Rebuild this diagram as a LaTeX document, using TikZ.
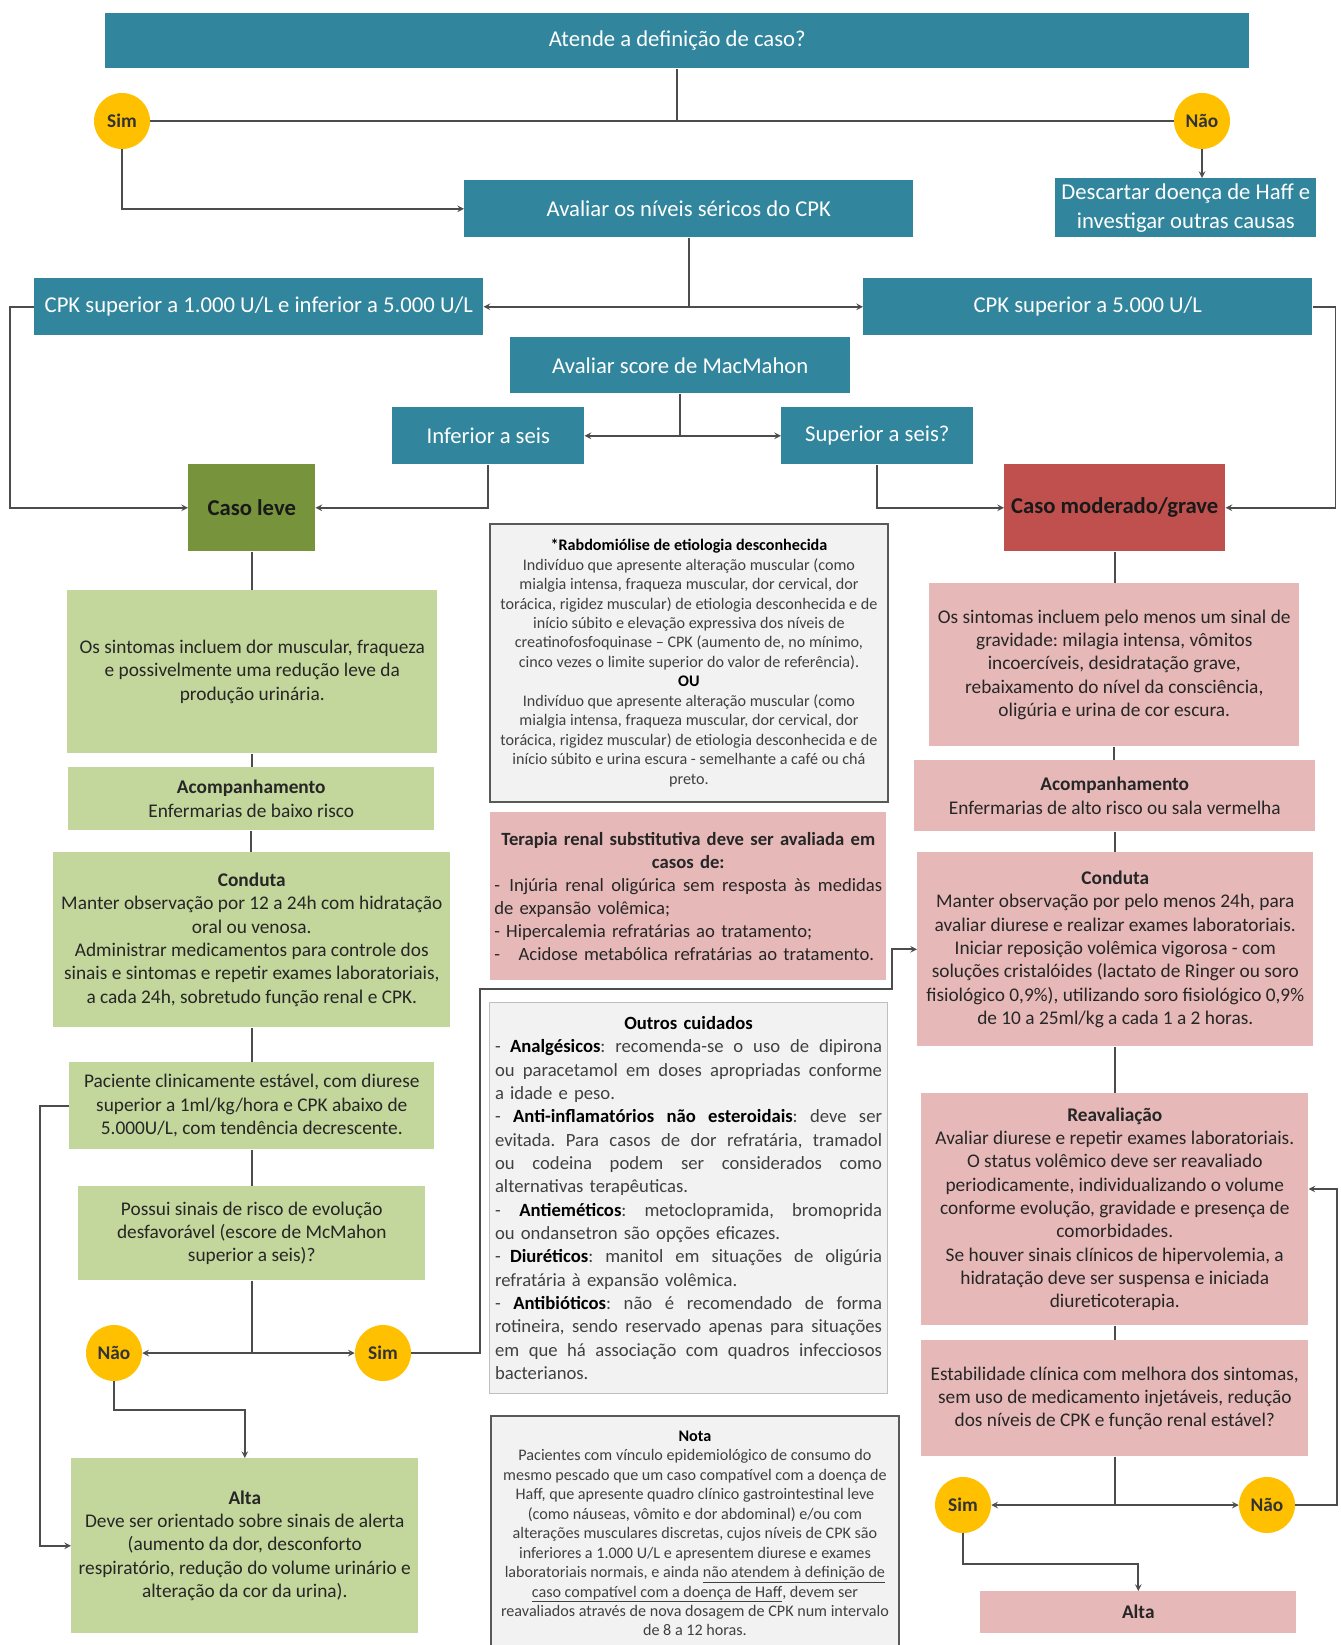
\documentclass[tikz,border=0pt]{standalone}
\usepackage{fontspec}
\setmainfont{Carlito}
\usetikzlibrary{arrows}

\definecolor{cpkteal}{HTML}{31859C}
\definecolor{simgold}{HTML}{FFC000}
\definecolor{levegreen}{HTML}{77933C}
\definecolor{leveback}{HTML}{C3D69B}
\definecolor{gravered}{HTML}{C0504D}
\definecolor{graveback}{HTML}{E6B9B8}
\definecolor{notegray}{HTML}{F2F2F2}

\newlength\px
\setlength\px{0.75pt}
\newcommand\fs[2]{\fontsize{#1}{#2}\selectfont}
\newcommand\jl[1]{\makebox[\linewidth][s]{\spaceskip=0.23em plus 1fil\xspaceskip=\spaceskip #1}\\}

\begin{document}
\frenchspacing
\begin{tikzpicture}[x=0.75pt, y=-0.75pt,
    box/.style={anchor=north west, inner sep=0pt, text=black!85, font=\fs{14.5}{17.5}, align=center},
    tealbox/.style={box, fill=cpkteal, text=white, font=\fs{17}{21.5}},
    casebox/.style={box, text=black!90, font=\bfseries\fs{17}{19}},
    levebox/.style={box, fill=leveback},
    gravebox/.style={box, fill=graveback},
    notebox/.style={box, fill=notegray, draw=black!65, line width=1.4pt, text=black!75},
    decision/.style={circle, fill=simgold, minimum size=56\px, inner sep=0pt, text=black!80, font=\bfseries\fs{14.5}{17}},
    flow/.style={draw=black!70, line width=1.2pt},
    arr/.style={flow, ->, >=stealth}]
\fill[white] (0,0) rectangle (1340,1645);
\useasboundingbox (0,0) rectangle (1340,1645);

% definicao de caso
\node[tealbox, minimum width=1144\px, minimum height=55\px] (atende) at (105,13) {Atende a definição de caso?};
\node[decision] (simA) at (122,121) {Sim};
\node[decision] (naoA) at (1202,121) {Não};
\node[tealbox, minimum width=449\px, minimum height=57\px] (cpkEval) at (464,180) {Avaliar os níveis séricos do CPK};
\node[tealbox, minimum width=261\px, minimum height=59\px] (descartar) at (1055,178) {Descartar doença de Haff e\\investigar outras causas};

% niveis de CPK e score
\node[tealbox, minimum width=449\px, minimum height=57\px] (cpkLow) at (34,278) {CPK superior a 1.000 U/L e inferior a 5.000 U/L};
\node[tealbox, minimum width=449\px, minimum height=57\px] (cpkHigh) at (863,278) {CPK superior a 5.000 U/L};
\node[tealbox, minimum width=340\px, minimum height=56\px] (mcmahon) at (510,337) {Avaliar score de MacMahon};
\node[tealbox, minimum width=192\px, minimum height=57\px] (inferior) at (392,407) {Inferior a seis};
\node[tealbox, minimum width=192\px, minimum height=57\px] (superior) at (781,407) {Superior a seis?};
\node[casebox, fill=levegreen, minimum width=127\px, minimum height=87\px] (leve) at (188,464) {Caso leve};
\node[casebox, fill=gravered, minimum width=221\px, minimum height=87\px] (grave) at (1004,464) {Caso moderado/grave};

% caso leve
\node[levebox, minimum width=370\px, minimum height=163\px] (sintL) at (67,590) {Os sintomas incluem dor muscular, fraqueza\\e possivelmente uma redução leve da\\produção urinária.};
\node[levebox, minimum width=366\px, minimum height=63\px] (acompL) at (68,767) {\textbf{Acompanhamento}\\Enfermarias de baixo risco};
\node[levebox, minimum width=397\px, minimum height=175\px] (condL) at (53,852) {\textbf{Conduta}\\Manter observação por 12 a 24h com hidratação\\oral ou venosa.\\Administrar medicamentos para controle dos\\sinais e sintomas e repetir exames laboratoriais,\\a cada 24h, sobretudo função renal e CPK.};
\node[levebox, minimum width=365\px, minimum height=87\px] (pacL) at (69,1062) {Paciente clinicamente estável, com diurese\\superior a 1ml/kg/hora e CPK abaixo de\\5.000U/L, com tendência decrescente.};
\node[levebox, minimum width=347\px, minimum height=94\px] (possL) at (78,1186) {Possui sinais de risco de evolução\\desfavorável (escore de McMahon\\superior a seis)?};
\node[decision] (naoB) at (114,1353) {Não};
\node[decision] (simB) at (383,1353) {Sim};
\node[levebox, minimum width=347\px, minimum height=175\px] (altaL) at (71,1458) {\textbf{Alta}\\Deve ser orientado sobre sinais de alerta\\(aumento da dor, desconforto\\respiratório, redução do volume urinário e\\alteração da cor da urina).};

% coluna central
\node[notebox, minimum width=398\px, minimum height=278\px, font=\fs{12.1}{14.6}] (rabdo) at (489,523) {\textbf{\color{black}*Rabdomiólise de etiologia desconhecida}\\Indivíduo que apresente alteração muscular (como\\mialgia intensa, fraqueza muscular, dor cervical, dor\\torácica, rigidez muscular) de etiologia desconhecida e de\\início súbito e elevação expressiva dos níveis de\\creatinofosfoquinase -- CPK (aumento de, no mínimo,\\cinco vezes o limite superior do valor de referência).\\\textbf{\color{black}OU}\\Indivíduo que apresente alteração muscular (como\\mialgia intensa, fraqueza muscular, dor cervical, dor\\torácica, rigidez muscular) de etiologia desconhecida e de\\início súbito e urina escura - semelhante a café ou chá\\preto.};
\node[gravebox, minimum width=396\px, minimum height=168\px, text width=388\px, align=left, font=\fs{14}{17.3}] (terapia) at (490,812) {\makebox[\linewidth]{\textbf{Terapia renal substitutiva deve ser avaliada em}}\\\makebox[\linewidth]{\textbf{casos de:}}\\\jl{-\enspace Injúria renal oligúrica sem resposta às medidas}de expansão volêmica;\\- Hipercalemia refratárias ao tratamento;\\-\quad Acidose metabólica refratárias ao tratamento.};
\node[notebox, draw=black!25, line width=0.8pt, minimum width=398\px, minimum height=391\px, text width=387\px, align=left, font=\fs{14}{17.5}] (outros) at (489,1002) {\makebox[\linewidth]{\textbf{\color{black}Outros cuidados}}\\\jl{-\enspace\textbf{\color{black}Analgésicos}: recomenda-se o uso de dipirona}\jl{ou paracetamol em doses apropriadas conforme}a idade e peso.\\\jl{- \textbf{\color{black}Anti-inflamatórios não esteroidais}: deve ser}\jl{evitada. Para casos de dor refratária, tramadol}\jl{ou codeina podem ser considerados como}alternativas terapêuticas.\\\jl{-\quad\textbf{\color{black}Antieméticos}: metoclopramida, bromoprida}ou ondansetron são opções eficazes.\\\jl{-\enspace\textbf{\color{black}Diuréticos}: manitol em situações de oligúria}refratária à expansão volêmica.\\\jl{- \textbf{\color{black}Antibióticos}: não é recomendado de forma}\jl{rotineira, sendo reservado apenas para situações}\jl{em que há associação com quadros infecciosos}bacterianos.};
\node[notebox, minimum width=408\px, minimum height=235\px, font=\fs{12.1}{14.6}] (nota) at (490,1415) {\textbf{\color{black}Nota}\\Pacientes com vínculo epidemiológico de consumo do\\mesmo pescado que um caso compatível com a doença de\\Haff, que apresente quadro clínico gastrointestinal leve\\(como náuseas, vômito e dor abdominal) e/ou com\\alterações musculares discretas, cujos níveis de CPK são\\inferiores a 1.000 U/L e apresentem diurese e exames\\laboratoriais normais, e ainda \underline{não atendem à definição de}\\\underline{caso compatível com a doença de Haff}, devem ser\\reavaliados através de nova dosagem de CPK num intervalo\\de 8 a 12 horas.};

% caso moderado/grave
\node[gravebox, minimum width=370\px, minimum height=163\px] (sintR) at (929,583) {Os sintomas incluem pelo menos um sinal de\\gravidade: milagia intensa, vômitos\\incoercíveis, desidratação grave,\\rebaixamento do nível da consciência,\\oligúria e urina de cor escura.};
\node[gravebox, minimum width=401\px, minimum height=71\px] (acompR) at (914,760) {\textbf{Acompanhamento}\\Enfermarias de alto risco ou sala vermelha};
\node[gravebox, minimum width=396\px, minimum height=194\px] (condR) at (917,852) {\textbf{Conduta}\\Manter observação por pelo menos 24h, para\\avaliar diurese e realizar exames laboratoriais.\\Iniciar reposição volêmica vigorosa - com\\soluções cristalóides (lactato de Ringer ou soro\\fisiológico 0,9\%), utilizando soro fisiológico 0,9\%\\de 10 a 25ml/kg a cada 1 a 2 horas.};
\node[gravebox, minimum width=387\px, minimum height=232\px] (reavR) at (921,1093) {\textbf{Reavaliação}\\Avaliar diurese e repetir exames laboratoriais.\\O status volêmico deve ser reavaliado\\periodicamente, individualizando o volume\\conforme evolução, gravidade e presença de\\comorbidades.\\Se houver sinais clínicos de hipervolemia, a\\hidratação deve ser suspensa e iniciada\\diureticoterapia.};
\node[gravebox, minimum width=387\px, minimum height=116\px] (estabR) at (921,1340) {Estabilidade clínica com melhora dos sintomas,\\sem uso de medicamento injetáveis, redução\\dos níveis de CPK e função renal estável?};
\node[decision] (simC) at (963,1505) {Sim};
\node[decision] (naoC) at (1267,1505) {Não};
\node[gravebox, minimum width=316\px, minimum height=42\px] (altaR) at (980,1591) {\textbf{Alta}};

% conectores do topo
\draw[flow] (atende) -- (atende |- simA);
\draw[flow] (simA) -- (naoA);
\draw[arr] (simA) |- (cpkEval);
\draw[arr] (naoA) -- (naoA |- descartar.north);
\coordinate (j1) at (cpkEval |- cpkLow);
\draw[flow] (cpkEval) -- (j1);
\draw[arr] (j1) -- (cpkLow);
\draw[arr] (j1) -- (cpkHigh);
\draw[arr] (cpkLow.west) -- ++(-24,0) |- (leve);
\draw[arr] (cpkHigh.east) -- ++(23,0) |- (grave);
\coordinate (j2) at (mcmahon |- inferior);
\draw[flow] (mcmahon) -- (j2);
\draw[arr] (j2) -- (inferior);
\draw[arr] (j2) -- (superior);
\draw[arr] (inferior) |- (leve);
\draw[arr] (superior) |- (grave);

% coluna esquerda
\foreach \a/\b in {leve/sintL, sintL/acompL, acompL/condL, condL/pacL, pacL/possL}
  \draw[flow] (\a.south) -- (\a.south |- \b.north);
\coordinate (j3) at (possL |- naoB);
\draw[flow] (possL) -- (j3);
\draw[arr] (j3) -- (naoB);
\draw[arr] (j3) -- (simB);
\draw[arr] (naoB.south) -- ++(0,29) -| (altaL.north);
\draw[arr] (pacL.west) -- ++(-29,0) |- (altaL);
\coordinate (k1) at (480,989);
\coordinate (k2) at (892,989);
\draw[arr] (simB.east) -| (k1) -- (k2) |- (condR);

% coluna direita
\foreach \a/\b in {grave/sintR, sintR/acompR, acompR/condR, condR/reavR, reavR/estabR}
  \draw[flow] (\a.south) -- (\a.south |- \b.north);
\coordinate (j4) at (estabR |- simC);
\draw[flow] (estabR) -- (j4);
\draw[arr] (j4) -- (simC);
\draw[arr] (j4) -- (naoC);
\coordinate (k3) at (1337,1189);
\draw[arr] (naoC.east) -| (k3) -- (reavR.east |- k3);
\draw[arr] (simC.south) -- ++(0,31) -| (altaR.north);
\end{tikzpicture}
\end{document}
